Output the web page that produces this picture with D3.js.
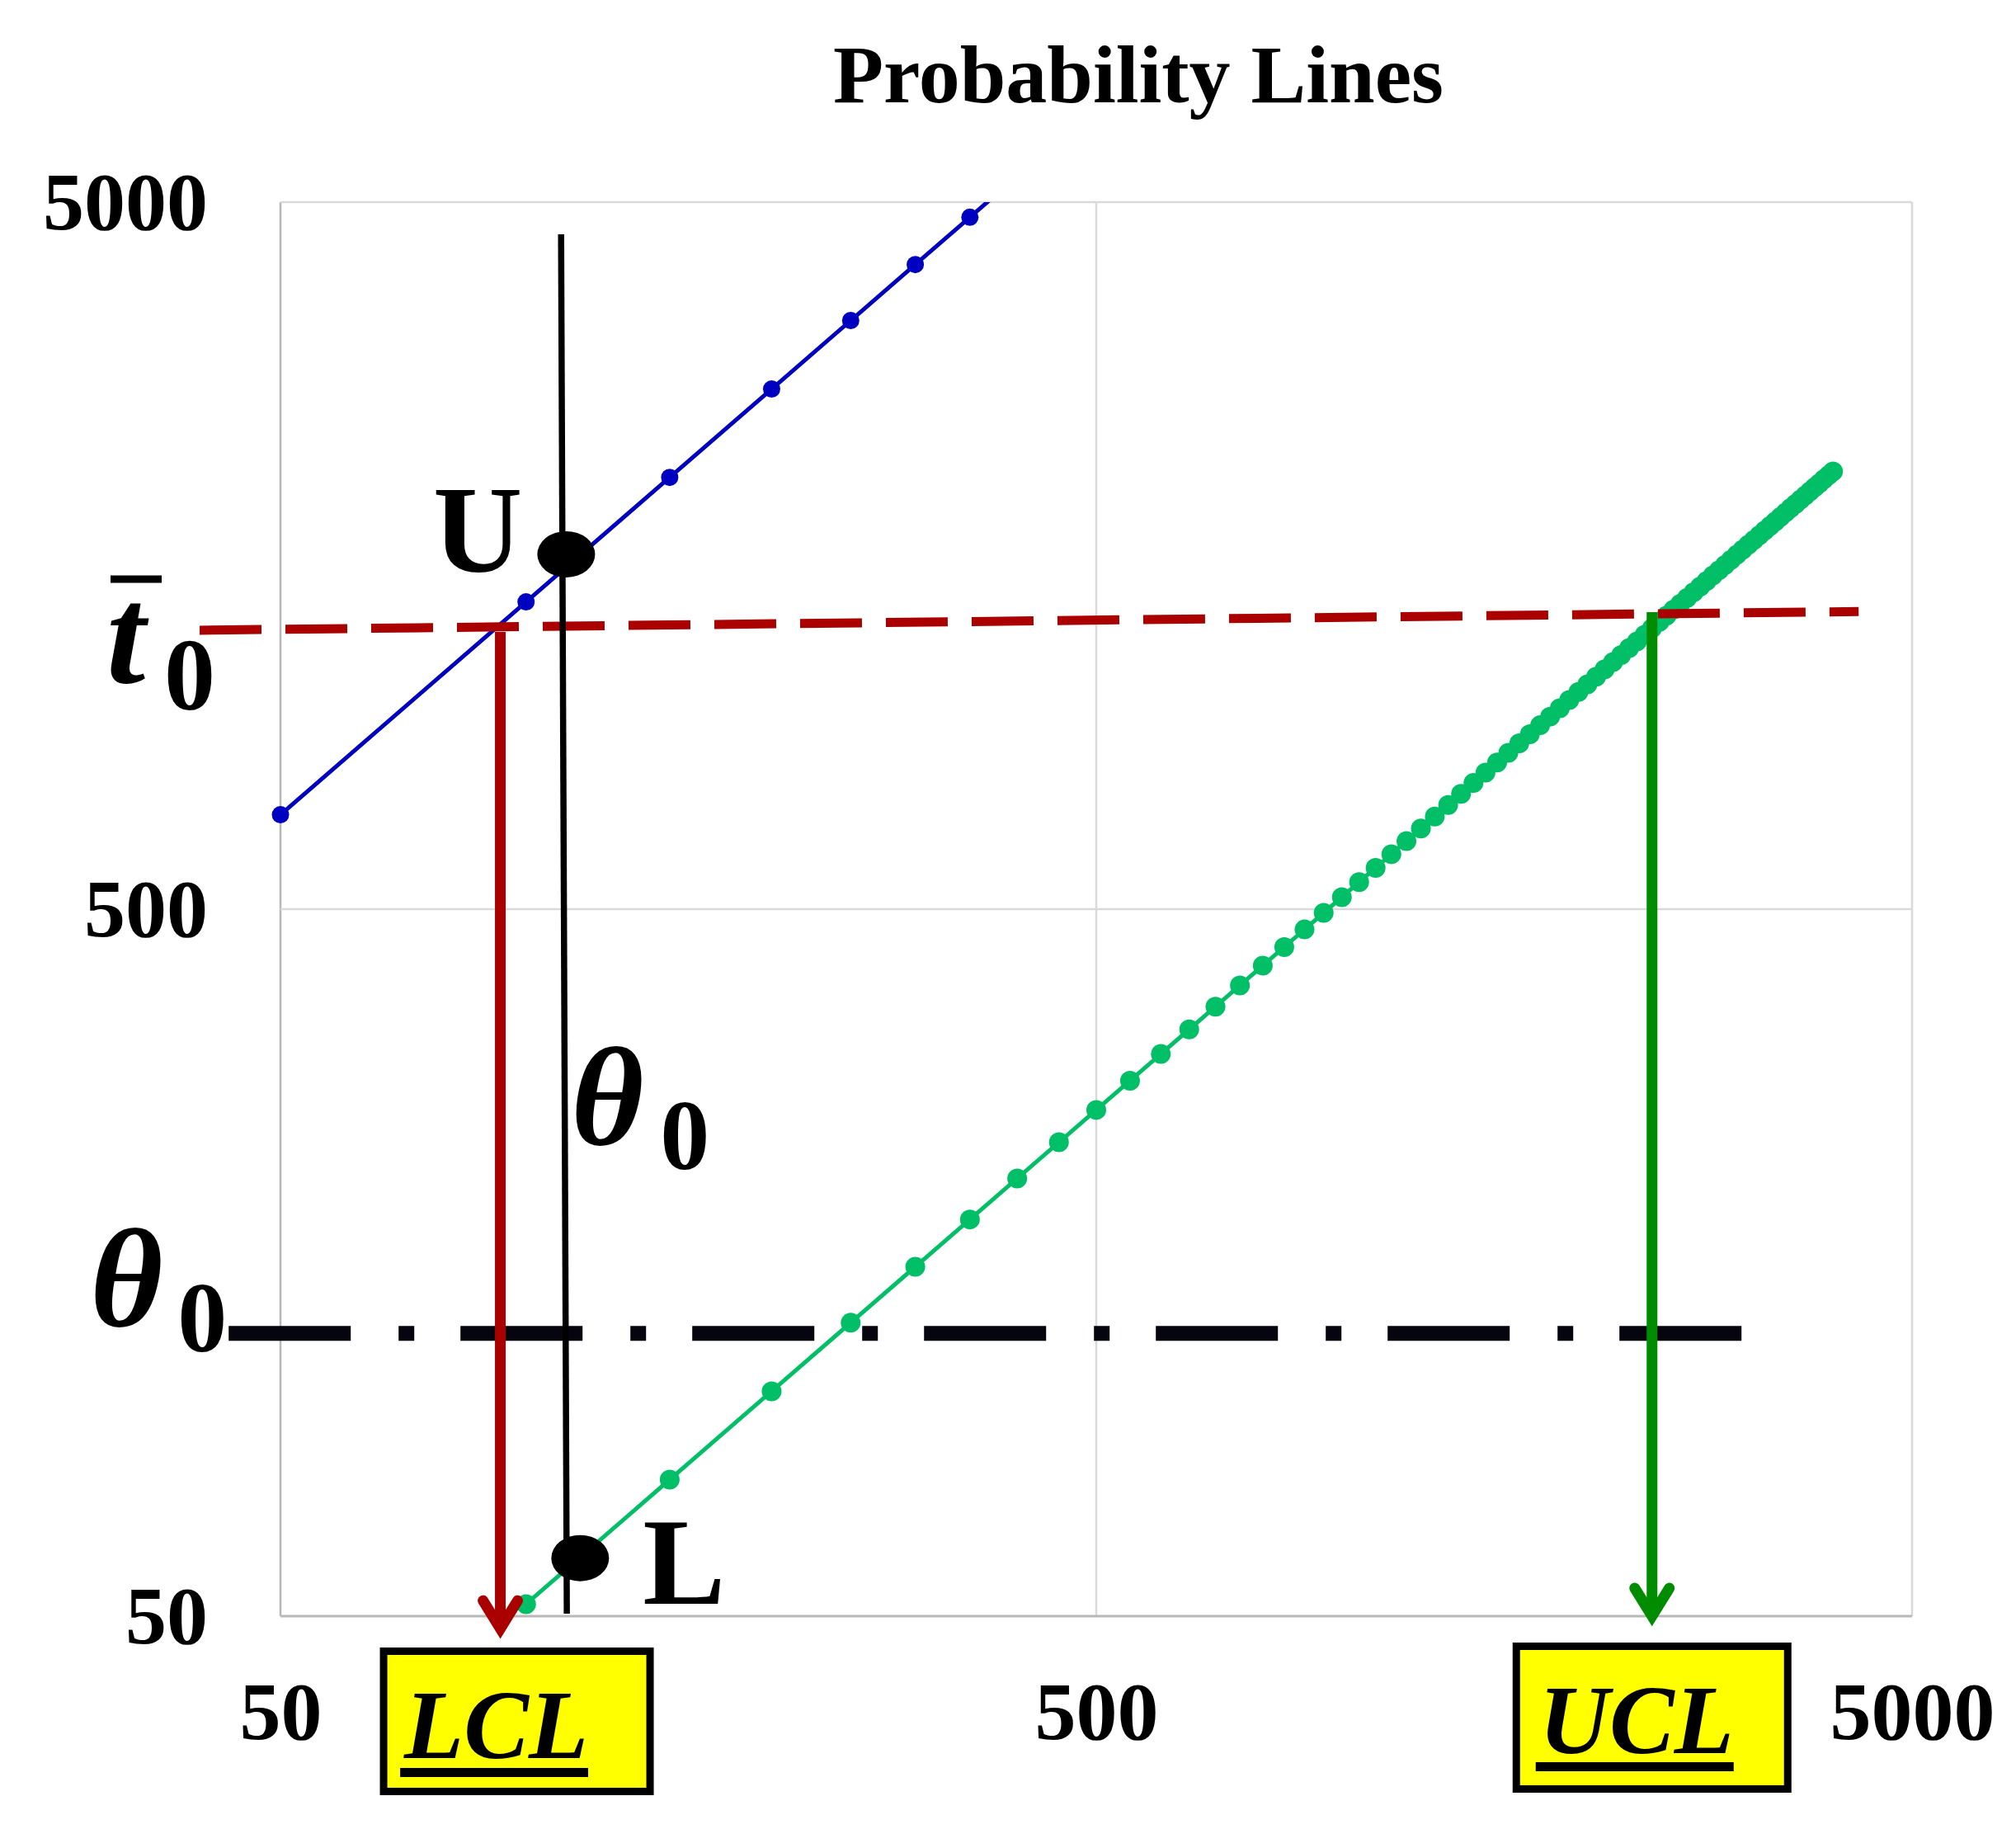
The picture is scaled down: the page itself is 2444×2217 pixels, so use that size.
<!DOCTYPE html>
<html>
<head>
<meta charset="utf-8">
<script src="https://cdn.jsdelivr.net/npm/d3@7/dist/d3.min.js"></script>
<style>
body { margin:0; background:#fff; }
text { font-family:"Liberation Serif","Times New Roman",serif; }
</style>
</head>
<body>
<div id="chart"></div>
<script>
// axis ticks
var xTicks = [50, 500, 5000];
var yTicks = [50, 500, 5000];

// upper probability line (blue)
var upperX = [50, 100, 150, 200, 250, 300, 350, 400];
var upperY = [680, 1360, 2040, 2720, 3400, 4080, 4760, 5440];

// lower probability line (green)
var lowerX = [100, 150, 200, 250, 300, 350, 400, 450, 500, 550, 600, 650, 700, 750, 800, 850, 900, 950,
  1000, 1050, 1100, 1150, 1200, 1250, 1300, 1350, 1400, 1450, 1500, 1550, 1600, 1650, 1700, 1750, 1800, 1850,
  1900, 1950, 2000, 2050, 2100, 2150, 2200, 2250, 2300, 2350, 2400, 2450, 2500, 2550, 2600, 2650, 2700, 2750,
  2800, 2850, 2900, 2950, 3000, 3050, 3100, 3150, 3200, 3250, 3300, 3350, 3400, 3450, 3500, 3550, 3600, 3650,
  3700, 3750, 3800, 3850, 3900, 3950, 4000];
var lowerY = [52, 78, 104, 130, 156, 182, 208, 234, 260, 286, 312, 338, 364, 390, 416, 442, 468, 494,
  520, 546, 572, 598, 624, 650, 676, 702, 728, 754, 780, 806, 832, 858, 884, 910, 936, 962,
  988, 1014, 1040, 1066, 1092, 1118, 1144, 1170, 1196, 1222, 1248, 1274, 1300, 1326, 1352, 1378, 1404, 1430,
  1456, 1482, 1508, 1534, 1560, 1586, 1612, 1638, 1664, 1690, 1716, 1742, 1768, 1794, 1820, 1846, 1872, 1898,
  1924, 1950, 1976, 2002, 2028, 2054, 2080];

// annotations (data units)
var tBarLine = [[39.8, 1240], [4300, 1318]];
var thetaLine = [[43.2, 125.6], [3117, 125.6]];
var thetaVert = [[110.4, 4503], [112.2, 50.4]];
var pointNames = ["U", "L"];
var pointXY = [[112, 1588], [116.5, 60.4]];
var limitNames = ["LCL", "UCL"];
var limitX = [93, 2400];
var limitTop = [1233, 1315];
var limitTip = [48, 50];

var margin = {top:245, right:126, bottom:258, left:340};
var W = 2444, H = 2217;
var w = W - margin.left - margin.right;
var h = H - margin.top - margin.bottom;

var svg = d3.select("#chart").append("svg")
    .attr("width", W)
    .attr("height", H)
    .style("background", "#fff");

svg.append("text")
    .attr("x", margin.left + 1040)
    .attr("y", 124)
    .attr("text-anchor", "middle")
    .style("font-size", "100px")
    .style("font-weight", "bold")
    .text("Probability Lines");

var g = svg.append("g")
    .attr("transform", "translate(" + margin.left + "," + margin.top + ")");

var x = d3.scaleLog().domain([50, 5000]).range([0, w]);
var y = d3.scaleLog().domain([50, 5000]).range([h, 0]);

g.append("defs").append("clipPath").attr("id", "plotclip")
    .append("rect").attr("width", w).attr("height", h);

// grid + frame
g.selectAll(".vgrid").data(xTicks).enter().append("line")
    .attr("x1", function(d){ return x(d); }).attr("x2", function(d){ return x(d); })
    .attr("y1", 0).attr("y2", h)
    .style("stroke", function(d, i){ return i === 0 ? "#b8b8b8" : "#d9d9d9"; })
    .style("stroke-width", 2.5);
g.selectAll(".hgrid").data(yTicks).enter().append("line")
    .attr("y1", function(d){ return y(d); }).attr("y2", function(d){ return y(d); })
    .attr("x1", 0).attr("x2", w)
    .style("stroke", function(d, i){ return i === 0 ? "#b8b8b8" : "#d9d9d9"; })
    .style("stroke-width", function(d, i){ return i === 0 ? 3 : 2.5; });

var xAxis = d3.axisBottom(x).tickValues(xTicks).tickFormat(d3.format("d")).tickSize(0).tickPadding(78);
var yAxis = d3.axisLeft(y).tickValues(yTicks).tickFormat(d3.format("d")).tickSize(0).tickPadding(88);

var gx = g.append("g").attr("transform", "translate(0," + h + ")").call(xAxis);
var gy = g.append("g").call(yAxis);
[gx, gy].forEach(function(a){
    a.select(".domain").remove();
    a.selectAll("text")
        .style("font-family", "'Liberation Serif','Times New Roman',serif")
        .style("font-size", "100px")
        .style("font-weight", "bold")
        .style("fill", "#000");
});

// series
var line = d3.line()
    .x(function(d){ return x(d[0]); })
    .y(function(d){ return y(d[1]); });

var series = [
    {name:"upper", color:"#0000c0", r:10.5, pts:upperX.map(function(v, i){ return [v, upperY[i]]; })},
    {name:"lower", color:"#00bf66", r:12, pts:lowerX.map(function(v, i){ return [v, lowerY[i]]; })}
];

var s = g.selectAll(".series").data(series).enter().append("g").attr("class", "series");
s.append("path")
    .attr("clip-path", "url(#plotclip)")
    .attr("d", function(d){ return line(d.pts); })
    .style("fill", "none")
    .style("stroke", function(d){ return d.color; })
    .style("stroke-width", 5);
s.each(function(sd){
    d3.select(this).selectAll("circle")
        .data(sd.pts.filter(function(p){ return p[1] <= 5000; }))
        .enter().append("circle")
        .attr("cx", function(d){ return x(d[0]); })
        .attr("cy", function(d){ return y(d[1]); })
        .attr("r", sd.r)
        .style("fill", sd.color);
});

// theta0 dash-dot line
g.append("path")
    .attr("d", line(thetaLine))
    .style("stroke", "#05050f")
    .style("stroke-width", 18)
    .style("stroke-dasharray", "148,58,19,56")
    .style("fill", "none");

// t-bar dashed line
g.append("path")
    .attr("d", line(tBarLine))
    .style("stroke", "#aa0000")
    .style("stroke-width", 11)
    .style("stroke-dasharray", "75,29")
    .style("fill", "none");

// theta0 vertical
g.append("path")
    .attr("d", line(thetaVert))
    .style("stroke", "#000")
    .style("stroke-width", 7.5)
    .style("fill", "none");

// LCL / UCL arrows
var arrowColors = ["#aa0000", "#008c00"];
limitNames.forEach(function(name, i){
    var ax = x(limitX[i]);
    var vy = y(limitTip[i]);
    g.append("line")
        .attr("x1", ax).attr("x2", ax)
        .attr("y1", y(limitTop[i])).attr("y2", vy - 4)
        .style("stroke", arrowColors[i])
        .style("stroke-width", 13);
    g.append("path")
        .attr("d", "M" + (ax - 21) + "," + (vy - 34) + "L" + ax + "," + vy + "L" + (ax + 21) + "," + (vy - 34))
        .style("fill", "none")
        .style("stroke", arrowColors[i])
        .style("stroke-width", 13)
        .style("stroke-linecap", "round")
        .style("stroke-linejoin", "miter");
});

// U and L points
g.selectAll(".pt").data(pointXY).enter().append("ellipse")
    .attr("cx", function(d){ return x(d[0]); })
    .attr("cy", function(d){ return y(d[1]); })
    .attr("rx", 35)
    .attr("ry", 28)
    .style("fill", "#000");

g.append("text")
    .attr("x", x(pointXY[0][0]) - 53)
    .attr("y", y(pointXY[0][1]) + 21)
    .attr("text-anchor", "end")
    .style("font-size", "150px")
    .style("font-weight", "bold")
    .text(pointNames[0]);
g.append("text")
    .attr("x", x(pointXY[1][0]) + 76)
    .attr("y", y(pointXY[1][1]) + 55)
    .style("font-size", "150px")
    .style("font-weight", "bold")
    .text(pointNames[1]);

// t-bar label
var t0 = [x(tBarLine[0][0]), y(tBarLine[0][1])];
g.append("text")
    .attr("x", t0[0] - 113)
    .attr("y", t0[1] + 63)
    .style("font-size", "170px")
    .style("font-weight", "bold")
    .style("font-style", "italic")
    .text("t");
g.append("line")
    .attr("x1", t0[0] - 108).attr("x2", t0[0] - 46)
    .attr("y1", t0[1] - 62).attr("y2", t0[1] - 62)
    .style("stroke", "#000").style("stroke-width", 9);
g.append("text")
    .attr("x", t0[0] - 43)
    .attr("y", t0[1] + 96)
    .style("font-size", "124px")
    .style("font-weight", "bold")
    .text("0");

// theta0 labels
var th = [x(thetaLine[0][0]), y(thetaLine[0][1])];
g.append("text")
    .attr("x", th[0] - 168)
    .attr("y", th[1] - 9)
    .style("font-size", "170px")
    .style("font-weight", "bold")
    .style("font-style", "italic")
    .text("θ");
g.append("text")
    .attr("x", th[0] - 62)
    .attr("y", th[1] + 22)
    .style("font-size", "120px")
    .style("font-weight", "bold")
    .text("0");

var tv = x(thetaVert[0][0]);
g.append("text")
    .attr("x", tv + 12)
    .attr("y", th[1] - 229)
    .style("font-size", "170px")
    .style("font-weight", "bold")
    .style("font-style", "italic")
    .text("θ");
g.append("text")
    .attr("x", tv + 120)
    .attr("y", th[1] - 199)
    .style("font-size", "120px")
    .style("font-weight", "bold")
    .text("0");

// LCL / UCL boxes
var boxDx = [20, 0], boxW = [323, 329], boxTop = [42.5, 36.5], boxH = [170, 173];
var textDx = [-5, -19], textY = [172, 166], ulY = [184, 177];
limitNames.forEach(function(name, i){
    var ax = x(limitX[i]);
    g.append("rect")
        .attr("x", ax + boxDx[i] - boxW[i] / 2)
        .attr("y", h + boxTop[i])
        .attr("width", boxW[i])
        .attr("height", boxH[i])
        .style("fill", "#ffff00")
        .style("stroke", "#000")
        .style("stroke-width", 9);
    var t = g.append("text")
        .attr("x", ax + textDx[i])
        .attr("y", h + textY[i])
        .attr("text-anchor", "middle")
        .style("font-size", "118px")
        .style("font-weight", "bold")
        .style("font-style", "italic")
        .text(name);
    var bb = t.node().getBBox();
    g.append("rect")
        .attr("x", bb.x - 4)
        .attr("y", h + ulY[i])
        .attr("width", bb.width + 4)
        .attr("height", 11)
        .style("fill", "#000");
});
</script>
</body>
</html>
